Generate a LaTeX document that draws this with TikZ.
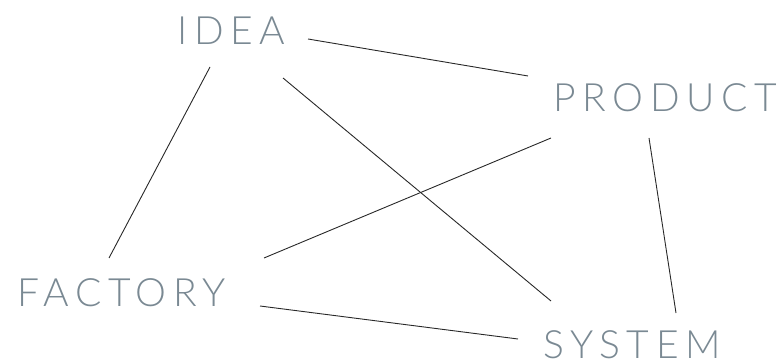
\documentclass[tikz,border=0pt]{standalone}
\usepackage{fontspec}
\setmainfont{Lato}[UprightFont=* Light]
\definecolor{labelgray}{RGB}{122,137,147}
\definecolor{linegray}{RGB}{40,40,40}
\begin{document}
\begin{tikzpicture}[x=1pt,y=1pt,
  word/.style={anchor=base west,inner sep=0pt,text=labelgray,
    font=\fontsize{39}{39}\selectfont\addfontfeature{LetterSpace=17}},
  link/.style={draw=linegray,line width=0.9pt}]
\useasboundingbox (0,0) rectangle (783,361);
\node[word] (idea) at (177,316) {IDEA};
\node[word] (product) at (553,249) {PRODUCT};
\node[word] (factory) at (17,55) {FACTORY};
\node[word] (system) at (543,3) {SYSTEM};
\draw[link] ([shift={(131pt,6pt)}]idea.base west) -- ([shift={(-25pt,36pt)}]product.base west);
\draw[link] ([shift={(33pt,-22pt)}]idea.base west) -- ([shift={(92pt,48pt)}]factory.base west);
\draw[link] ([shift={(106pt,-33pt)}]idea.base west) -- ([shift={(8pt,57pt)}]system.base west);
\draw[link] ([shift={(-2pt,-26pt)}]product.base west) -- ([shift={(247pt,48pt)}]factory.base west);
\draw[link] ([shift={(96pt,-26pt)}]product.base west) -- ([shift={(133pt,45pt)}]system.base west);
\draw[link] ([shift={(243pt,0pt)}]factory.base west) -- ([shift={(-25pt,19pt)}]system.base west);
\end{tikzpicture}
\end{document}
